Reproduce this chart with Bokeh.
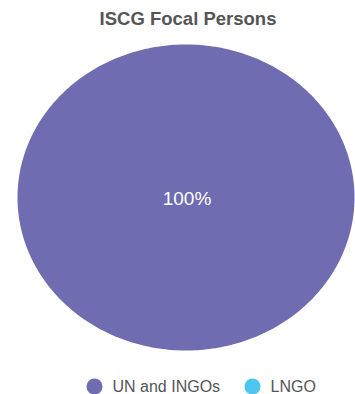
import numpy as np
from bokeh.plotting import figure
from bokeh.models import Range1d, ColumnDataSource
from bokeh.core.properties import value
from bokeh.embed import file_html
from bokeh.resources import INLINE

title_text = "ISCG Focal Persons"
categories = ["UN and INGOs", "LNGO"]
values = [100, 0]
colors = ["#6f6cb1", "#4cc6f0"]

W, H = 355, 394
p = figure(width=W, height=H, output_backend="svg", toolbar_location=None,
           x_range=Range1d(0, W), y_range=Range1d(H, 0), min_border=0)
p.axis.visible = False
p.grid.visible = False
p.outline_line_color = None
p.background_fill_color = "white"
p.border_fill_color = "white"

# pie geometry (elliptical, as in the reference)
cx, cy, rx, ry = 185.5, 197.0, 168.5, 153.0
total = float(sum(values))
xs, ys, fills = [], [], []
start = 0.0
for cat, v, c in zip(categories, values, colors):
    frac = v / total
    if frac <= 0:
        continue
    a0 = start * 2 * np.pi
    a1 = (start + frac) * 2 * np.pi
    t = np.linspace(a0, a1, 361)
    px = cx + rx * np.sin(t)
    py = cy - ry * np.cos(t)
    if frac < 1:
        px = np.concatenate([[cx], px, [cx]])
        py = np.concatenate([[cy], py, [cy]])
    xs.append(list(px)); ys.append(list(py)); fills.append(c)
    start += frac
p.patches(xs=xs, ys=ys, fill_color=fills, line_color=None)

# percentage labels
start = 0.0
for v in values:
    frac = v / total
    if frac > 0:
        mid = (start + frac / 2) * 2 * np.pi
        r = 0 if frac >= 1 else 0.6
        lx = cx + rx * r * np.sin(mid)
        ly = cy - ry * r * np.cos(mid)
        p.text(x=[lx + 1], y=[ly + 1], text=[f"{v / total * 100:.0f}%"],
               text_color="white", text_font=value("Liberation Sans"),
               text_font_size="19px", text_align="center", text_baseline="middle")
    start += frac

# title
p.text(x=[187.5], y=[18], text=[title_text], text_color="#555555",
       text_font=value("Liberation Sans"), text_font_style="bold",
       text_font_size="18.5px", text_align="center", text_baseline="middle")

# legend
lx0 = [94, 252]
src = ColumnDataSource(dict(x=lx0, y=[386, 386], c=colors,
                            tx=[x + 18 for x in lx0], t=categories))
p.scatter(x="x", y="y", size=16, marker="circle", fill_color="c", line_color=None, source=src)
p.text(x="tx", y="y", text="t", source=src, text_color="#555555",
       text_font=value("Liberation Sans"), text_font_size="16px",
       text_align="left", text_baseline="middle")

open("out.html", "w").write(file_html(p, INLINE))
